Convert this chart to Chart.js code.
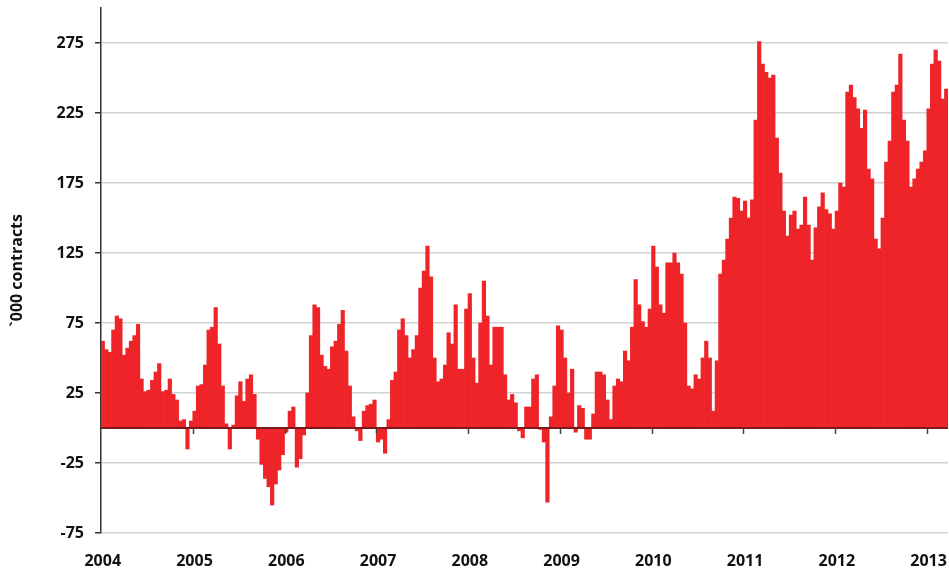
<!DOCTYPE html>
<html>
<head>
<meta charset="utf-8">
<script src="https://cdn.jsdelivr.net/npm/chart.js@4.4.1/dist/chart.umd.min.js"></script>
<style>
  html, body { margin: 0; padding: 0; background: #ffffff; }
  #wrap { width: 949px; height: 570px; position: relative; }
</style>
</head>
<body>
<div id="wrap"><canvas id="c" width="949" height="570"></canvas></div>
<script>
// ---- data (net positions, '000 contracts, two-weekly readings) ----
const years = ['2004','2005','2006','2007','2008','2009','2010','2011','2012','2013'];
const periodsPerYear = 26;
const v2004 = [62,56,54,70,80,78,52,57,62,66,74,35,26,27,34,40,46,26,27,35,24,20,5,6,-15,5];
const v2005 = [12,30,31,45,70,72,86,60,30,3,-15,2,23,33,19,35,38,24,-8,-26,-36,-42,-55,-40,-30,-19];
const v2006 = [-3,12,15,-28,-22,-5,25,66,88,86,52,44,42,58,62,74,84,55,30,8,-2,-9,12,16,17,20];
const v2007 = [-10,-8,-18,6,34,40,70,78,66,50,56,66,100,112,130,108,50,33,35,45,68,60,88,42,42,85];
const v2008 = [96,50,32,75,105,80,45,72,72,72,38,20,24,18,-2,-7,15,15,35,38,-1,-10,-53,8,30,73];
const v2009 = [70,50,25,42,-3,16,14,-8,-8,10,40,40,38,20,6,30,35,33,55,48,72,106,88,76,72,85];
const v2010 = [130,115,88,82,118,118,125,118,110,75,30,28,38,35,50,62,50,12,48,110,120,135,150,165,164,155];
const v2011 = [162,150,163,220,276,260,254,250,252,207,182,155,137,152,155,142,145,165,145,120,143,158,168,156,153,142];
const v2012 = [155,175,172,240,245,236,228,214,227,185,178,135,128,150,190,205,240,245,267,220,205,172,178,185,190,198];
const v2013 = [228,260,270,262,235,242];
const yTicks = [-75,-25,25,75,125,175,225,275];
const yMin = -75, yMax = 300;
const yTitle = '`000 contracts';

const values = [].concat(v2004, v2005, v2006, v2007, v2008, v2009, v2010, v2011, v2012, v2013);
const categories = values.map((_, i) =>
  years[Math.floor(i / periodsPerYear)] + '-' + String(i % periodsPerYear + 1).padStart(2, '0'));

const FONT = 'Open Sans';

const zeroLine = {
  id: 'zeroLine',
  afterDatasetsDraw(chart) {
    const { ctx, chartArea, scales: { x, y } } = chart;
    const y0 = y.getPixelForValue(0);
    const half = (x.getPixelForValue(1) - x.getPixelForValue(0)) / 2;
    ctx.save();
    ctx.strokeStyle = '#444444';
    ctx.lineWidth = 1.5;
    for (let k = 1; k < years.length; k++) {
      const idx = k * periodsPerYear;
      if (idx >= values.length) break;
      const px = Math.round(x.getPixelForValue(idx) - half) + 0.5;
      ctx.beginPath();
      ctx.moveTo(px, y0);
      ctx.lineTo(px, y0 + 6);
      ctx.stroke();
    }
    ctx.strokeStyle = '#7a1a1a';
    ctx.lineWidth = 2;
    ctx.beginPath();
    ctx.moveTo(chartArea.left, y0);
    ctx.lineTo(chartArea.right, y0);
    ctx.stroke();
    ctx.restore();
  }
};

new Chart(document.getElementById('c'), {
  type: 'bar',
  data: {
    labels: categories,
    datasets: [{
      data: values,
      backgroundColor: '#ee2428',
      borderWidth: 0,
      barPercentage: 1.0,
      categoryPercentage: 1.0
    }]
  },
  options: {
    responsive: false,
    animation: false,
    devicePixelRatio: 1,
    layout: { padding: { left: 0, right: 1, top: 8, bottom: 0 } },
    plugins: { legend: { display: false }, tooltip: { enabled: false } },
    scales: {
      x: {
        type: 'category',
        offset: true,
        grid: { display: false },
        border: { display: false },
        ticks: {
          autoSkip: false,
          maxRotation: 0,
          minRotation: 0,
          padding: 11,
          color: '#111111',
          font: { family: FONT, size: 16, weight: 'bold' },
          callback: (val, idx) => (idx % periodsPerYear === 0 ? years[idx / periodsPerYear] : '')
        },
        afterFit: s => { s.height = 37; s.paddingLeft = 0; s.paddingRight = 0; }
      },
      y: {
        min: yMin,
        max: yMax,
        afterBuildTicks: s => { s.ticks = yTicks.map(v => ({ value: v })); },
        grid: { color: '#d2d2d2', lineWidth: 1.5, tickColor: '#333333', tickLength: 6 },
        border: { display: true, color: '#333333', width: 1.5 },
        ticks: {
          padding: 11,
          color: '#111111',
          font: { family: FONT, size: 16, weight: 'bold' }
        },
        title: {
          display: true,
          text: yTitle,
          color: '#111111',
          font: { family: FONT, size: 16, weight: 'bold' },
          padding: { top: 8, bottom: 0 }
        },
        afterFit: s => { s.width = 101; s.paddingTop = 0; s.paddingBottom = 0; }
      }
    }
  },
  plugins: [zeroLine]
});
</script>
</body>
</html>
